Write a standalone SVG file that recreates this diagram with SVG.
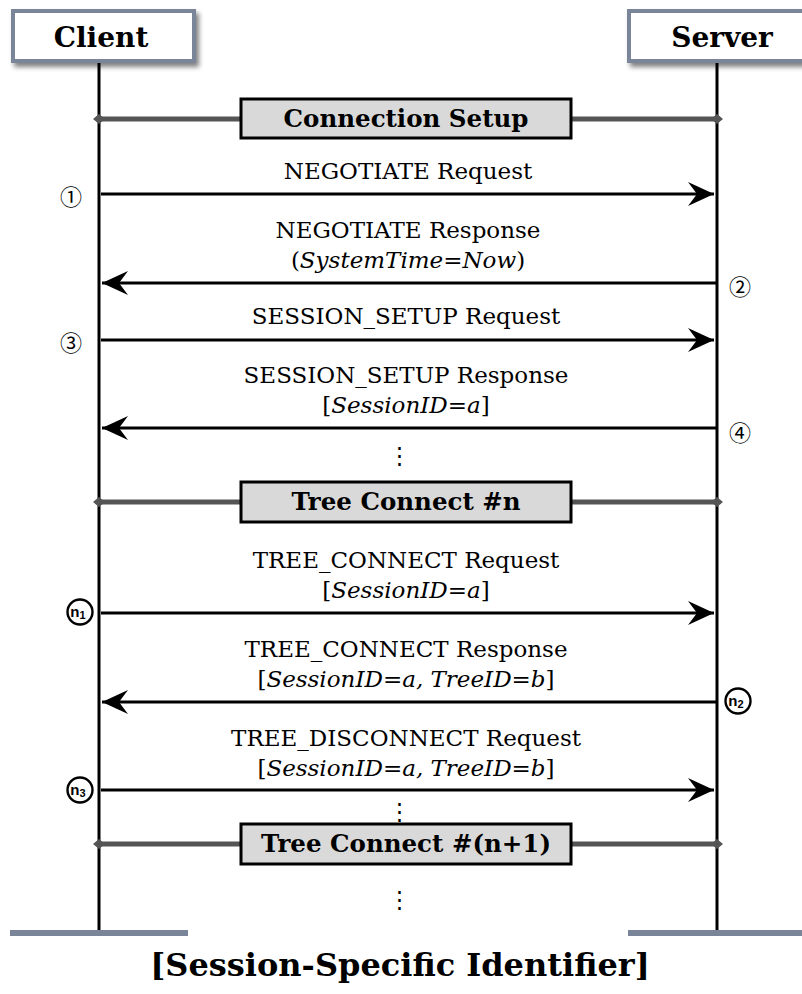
<svg xmlns="http://www.w3.org/2000/svg" width="802" height="994" viewBox="0 0 802 994">
<defs>
<style>
.hdr{font-family:"DejaVu Serif","Liberation Serif",serif;font-weight:bold;font-size:28px;fill:#000;text-anchor:middle}
.sec{font-family:"DejaVu Serif","Liberation Serif",serif;font-weight:bold;font-size:24.5px;fill:#000;text-anchor:middle}
.lbl{font-family:"DejaVu Serif","Liberation Serif",serif;font-size:23px;fill:#000;text-anchor:middle}
.it{font-style:italic}
.num{font-family:"Noto Sans CJK JP","DejaVu Sans",sans-serif;font-size:22px;fill:#000;text-anchor:middle}
.sub{font-family:"Liberation Sans",sans-serif;font-weight:bold;fill:#000;text-anchor:middle}
.life{stroke:#000;stroke-width:3}
.msg{stroke:#000;stroke-width:3;fill:none;marker-end:url(#ah)}
.bar{stroke:#555;stroke-width:5}
.secbox{fill:#d9d9d9;stroke:#000;stroke-width:3}
.actor{fill:#fff;stroke:#7a8599;stroke-width:4}
.base{fill:#7a8599}
.circ{fill:#fff;stroke:#000;stroke-width:2.4}
</style>
<marker id="ah" markerUnits="userSpaceOnUse" markerWidth="30" markerHeight="30" viewBox="-28 -14 30 28" refX="0" refY="0" orient="auto">
<path d="M0,0 L-26,-12 L-17,0 L-26,12 Z" fill="#000"/>
</marker>
<filter id="sh" x="-20%" y="-30%" width="140%" height="170%">
<feGaussianBlur in="SourceAlpha" stdDeviation="2.5"/>
<feOffset dx="3" dy="4" result="b"/>
<feComponentTransfer><feFuncA type="linear" slope="0.5"/></feComponentTransfer>
<feMerge><feMergeNode/><feMergeNode in="SourceGraphic"/></feMerge>
</filter>
</defs>
<rect width="802" height="994" fill="#fff"/>

<g id="lifelines">
<line class="life" x1="99" y1="62" x2="99" y2="932"/>
<line class="life" x1="717" y1="62" x2="717" y2="932"/>
<rect class="base" x="10" y="930" width="178" height="6"/>
<rect class="base" x="628" y="930" width="174" height="6"/>
</g>

<g id="client">
<rect class="actor" x="13" y="11" width="181" height="50" filter="url(#sh)"/>
<text class="hdr" x="101" y="47">Client</text>
</g>
<g id="server">
<rect class="actor" x="629" y="11" width="180" height="50" filter="url(#sh)"/>
<text class="hdr" x="722" y="47">Server</text>
</g>

<g id="sections">
<g id="sec-setup">
<line class="bar" x1="99" y1="119" x2="717" y2="119"/>
<path d="M93,119 L99,114 L105,119 L99,124 Z M711,119 L717,114 L723,119 L717,124 Z" fill="#555"/>
<rect class="secbox" x="241" y="99" width="330" height="39"/>
<text class="sec" x="406" y="127">Connection Setup</text>
</g>
<g id="sec-tree-n">
<line class="bar" x1="99" y1="502" x2="717" y2="502"/>
<path d="M93,502 L99,497 L105,502 L99,507 Z M711,502 L717,497 L723,502 L717,507 Z" fill="#555"/>
<rect class="secbox" x="241" y="482" width="330" height="40"/>
<text class="sec" x="406" y="510">Tree Connect #n</text>
</g>
<g id="sec-tree-n1">
<line class="bar" x1="99" y1="844" x2="717" y2="844"/>
<path d="M93,844 L99,839 L105,844 L99,849 Z M711,844 L717,839 L723,844 L717,849 Z" fill="#555"/>
<rect class="secbox" x="241" y="824" width="330" height="40"/>
<text class="sec" x="406" y="852">Tree Connect #(n+1)</text>
</g>
</g>

<g id="connectors">
<line class="msg" x1="101" y1="194" x2="714" y2="194"/>
<line class="msg" x1="716" y1="283" x2="102" y2="283"/>
<line class="msg" x1="101" y1="340" x2="714" y2="340"/>
<line class="msg" x1="716" y1="428" x2="102" y2="428"/>
<line class="msg" x1="101" y1="613" x2="714" y2="613"/>
<line class="msg" x1="716" y1="702" x2="102" y2="702"/>
<line class="msg" x1="101" y1="790" x2="714" y2="790"/>
</g>

<g id="labels">
<text class="lbl" x="408" y="179">NEGOTIATE Request</text>
<text class="lbl" x="408" y="238">NEGOTIATE Response</text>
<text class="lbl" x="408" y="268">(<tspan class="it">SystemTime=Now</tspan>)</text>
<text class="lbl" x="406" y="324">SESSION_SETUP Request</text>
<text class="lbl" x="406" y="383">SESSION_SETUP Response</text>
<text class="lbl" x="406" y="413">[<tspan class="it">SessionID=a</tspan>]</text>
<text class="lbl" x="406" y="568">TREE_CONNECT Request</text>
<text class="lbl" x="406" y="598">[<tspan class="it">SessionID=a</tspan>]</text>
<text class="lbl" x="406" y="657">TREE_CONNECT Response</text>
<text class="lbl" x="406" y="687">[<tspan class="it">SessionID=a, TreeID=b</tspan>]</text>
<text class="lbl" x="406" y="746">TREE_DISCONNECT Request</text>
<text class="lbl" x="406" y="776">[<tspan class="it">SessionID=a, TreeID=b</tspan>]</text>
<text class="lbl" x="399" y="463">⋮</text>
<text class="lbl" x="399" y="819">⋮</text>
<text class="lbl" x="399" y="907">⋮</text>
</g>

<g id="steps">
<text class="num" x="71" y="205">①</text>
<text class="num" x="740" y="295">②</text>
<text class="num" x="71" y="351">③</text>
<text class="num" x="740" y="441">④</text>
<g id="n1"><circle class="circ" cx="80" cy="612" r="12.5"/><text class="sub" x="78" y="617" font-size="15">n<tspan font-size="11" dy="2">1</tspan></text></g>
<g id="n2"><circle class="circ" cx="738" cy="701" r="12.5"/><text class="sub" x="736" y="706" font-size="15">n<tspan font-size="11" dy="2">2</tspan></text></g>
<g id="n3"><circle class="circ" cx="80" cy="790" r="12.5"/><text class="sub" x="78" y="795" font-size="15">n<tspan font-size="11" dy="2">3</tspan></text></g>
</g>

<text id="title" x="400" y="976" font-family="DejaVu Serif, Liberation Serif, serif" font-weight="bold" font-size="32" text-anchor="middle">[Session-Specific Identifier]</text>
</svg>
